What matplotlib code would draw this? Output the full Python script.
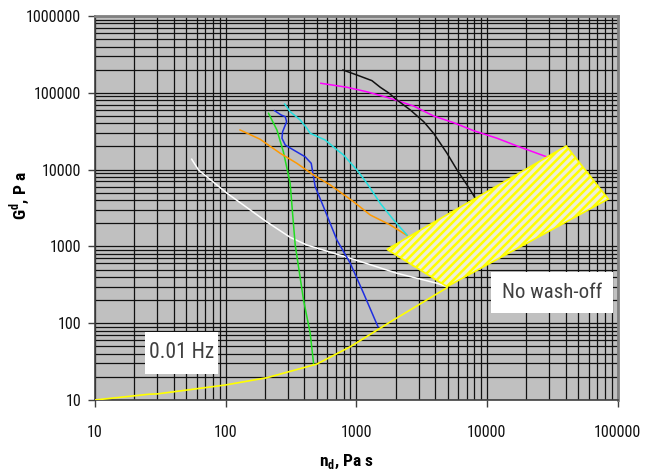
import matplotlib
matplotlib.use("Agg")
import matplotlib.pyplot as plt
from matplotlib.patches import Polygon, Rectangle
from matplotlib.ticker import LogLocator, FixedFormatter, FixedLocator

plt.rcParams["font.family"] = ["Roboto Condensed", "Archivo Narrow", "Liberation Sans", "DejaVu Sans"]
plt.rcParams["mathtext.fontset"] = "custom"
plt.rcParams["mathtext.rm"] = "Roboto Condensed:bold"
plt.rcParams["mathtext.bf"] = "Roboto Condensed:bold"
plt.rcParams["hatch.linewidth"] = 1.8
plt.rcParams["hatch.color"] = "#FFFF00"

# ---- data (viscosity n_d vs modulus G_d) ----
yellow_x = [10, 26, 30, 100, 207, 500, 900, 1824, 4955]
yellow_y = [10, 11.9, 12.0, 15.7, 19.5, 29.4, 49.4, 104, 290]

white_x = [55, 62, 102, 207, 312, 419, 900, 2050, 4150, 4955]
white_y = [13650, 9880, 4955, 2080, 1313, 1042, 700, 447, 331, 299]

green_x = [213, 247, 277, 312, 327, 341, 395, 444, 471]
green_y = [54100, 32800, 16950, 6630, 2440, 1042, 200, 74, 30]

blue_x = [237, 266, 286, 293, 273, 270, 286, 331, 406, 452, 466, 485, 561, 711, 900, 1138, 1466]
blue_y = [58500, 51400, 48900, 42100, 31100, 25600, 20900, 18000, 14700, 12080,
          8950, 5990, 3290, 1212, 603, 245, 90]

orange_x = [129, 184, 262, 351, 471, 632, 953, 1280, 1824, 2448]
orange_y = [32800, 24800, 16300, 12080, 8500, 6310, 3820, 2565, 1900, 1387]

cyan_x = [283, 312, 372, 419, 444, 578, 690, 799, 1012, 1208, 1527, 1932, 2448]
cyan_y = [71500, 56700, 44300, 34500, 29700, 24300, 18900, 15500, 9880, 6630,
          3640, 2208, 1406]

magenta_x = [536, 849, 1208, 1718, 2748, 3908, 5570, 7925, 11970, 17020, 28600]
magenta_y = [133000, 118000, 103000, 87300, 67300, 49900, 40800, 32100, 25600,
             20300, 14700]

black_x = [791, 1012, 1318, 1527, 1767, 2050, 2594, 3281, 3908, 4955, 5915, 7050, 8165]
black_y = [198000, 170500, 144000, 118000, 100000, 80500, 59700, 42100, 29700,
           16300, 9880, 6310, 4230]

# "no wash-off" zone corners
zone_x = [1720, 40500, 85000, 4950]
zone_y = [915, 20300, 4140, 300]

x_ticks = [10, 100, 1000, 10000, 100000]
x_labels = ["10", "100", "1000", "10000", "100000"]
y_ticks = [10, 100, 1000, 10000, 100000, 1000000]
y_labels = ["10", "100", "1000", "10000", "100000", "1000000"]

fig = plt.figure(figsize=(6.51, 4.74), dpi=100)
ax = fig.add_axes([95 / 651, 1 - 400 / 474, 522.5 / 651, 384 / 474])
ax.set_facecolor("#C0C0C0")
ax.set_xscale("log")
ax.set_yscale("log")
ax.set_xlim(10, 100000)
ax.set_ylim(10, 1000000)

ax.xaxis.set_major_locator(FixedLocator(x_ticks))
ax.xaxis.set_major_formatter(FixedFormatter(x_labels))
ax.yaxis.set_major_locator(FixedLocator(y_ticks))
ax.yaxis.set_major_formatter(FixedFormatter(y_labels))
ax.xaxis.set_minor_locator(LogLocator(base=10, subs=range(2, 10)))
ax.yaxis.set_minor_locator(LogLocator(base=10, subs=range(2, 10)))
ax.tick_params(which="minor", length=0)
ax.tick_params(which="major", length=5, width=1, color="#404040", labelsize=11.5,
               labelcolor="#111111")
ax.tick_params(axis="x", which="major", pad=13)
ax.tick_params(axis="y", which="major", pad=5)

ax.grid(True, which="both", color="#111111", lw=0.9)
ax.set_axisbelow(True)

for side in ("left", "bottom"):
    ax.spines[side].set_color("#404040")
    ax.spines[side].set_linewidth(1.2)
for side in ("top", "right"):
    ax.spines[side].set_color("#808080")
    ax.spines[side].set_linewidth(2)

lw = 1.1
ax.plot(white_x, white_y, color="#FFFFFF", lw=lw, zorder=3)
ax.plot(green_x, green_y, color="#22DD22", lw=lw, zorder=3)
ax.plot(blue_x, blue_y, color="#1F2FE0", lw=lw, zorder=3)
ax.plot(orange_x, orange_y, color="#FF9900", lw=lw, zorder=3)
ax.plot(cyan_x, cyan_y, color="#22E0E0", lw=lw, zorder=3)
ax.plot(magenta_x, magenta_y, color="#FF00FF", lw=lw, zorder=3)
ax.plot(black_x, black_y, color="#111111", lw=lw, zorder=3)

zone = Polygon(list(zip(zone_x, zone_y)), closed=True, facecolor="#EEEED8",
               edgecolor="#FFFF00", lw=1.2, hatch="////", zorder=4)
ax.add_patch(zone)
ax.plot(yellow_x, yellow_y, color="#FFFF00", lw=1.2, zorder=5)

# label boxes
ax.add_patch(Rectangle((0.0957, 0.0677), 0.1397, 0.1093, transform=ax.transAxes,
                       facecolor="white", edgecolor="none", zorder=6))
ax.text(0.1656, 0.1224, "0.01 Hz", transform=ax.transAxes, ha="center", va="center",
        fontsize=15.5, color="#404040", zorder=7)
ax.add_patch(Rectangle((0.758, 0.2266), 0.233, 0.1067, transform=ax.transAxes,
                       facecolor="white", edgecolor="none", zorder=6))
ax.text(0.8746, 0.2799, "No wash-off", transform=ax.transAxes, ha="center", va="center",
        fontsize=15, color="#404040", zorder=7)

fig.text(20 / 651, 1 - 196 / 474, r"G$^{\mathrm{d}}$, P a", rotation=90, ha="center",
         va="center", fontsize=12.5, fontweight="bold")
fig.text(346 / 651, 1 - 462 / 474, r"n$_{\mathrm{d}}$, Pa s", ha="center", va="center",
         fontsize=12.5, fontweight="bold")

fig.savefig("out.png", dpi=100)
